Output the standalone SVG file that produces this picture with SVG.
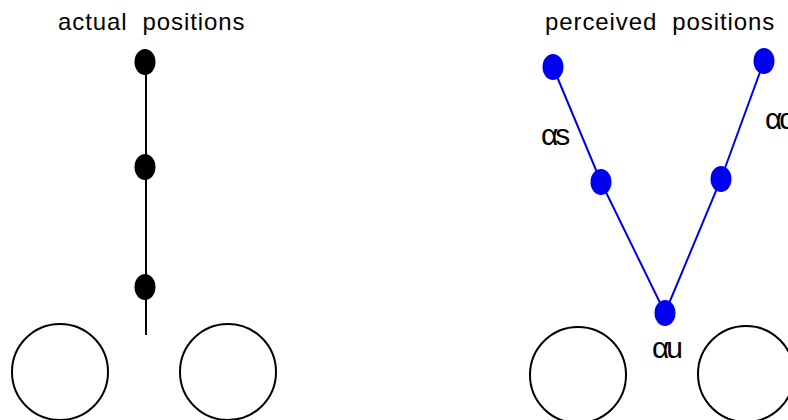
<svg xmlns="http://www.w3.org/2000/svg" width="788" height="420" viewBox="0 0 788 420">
<style>
.title{font-family:"Liberation Sans",Arial,sans-serif;font-size:24px;fill:#000;letter-spacing:0.9px;white-space:pre}
.lbl{font-family:"Liberation Sans",Arial,sans-serif;font-size:30px;fill:#000;letter-spacing:-3px}
.eye{fill:#fff;stroke:#000;stroke-width:2}
.bd{fill:#000}
.blu{fill:#0000ee}
</style>
<rect width="788" height="420" fill="#fff"/>
<text class="title" x="58" y="30" xml:space="preserve">actual  positions</text>
<text class="title" x="545" y="30" xml:space="preserve">perceived  positions</text>
<g id="connectors">
<line x1="146" y1="62" x2="146" y2="335" stroke="#000" stroke-width="2"/>
<polyline points="553,67 601,182 665,313 721,179 764,61" fill="none" stroke="#0000ee" stroke-width="2"/>
</g>
<g id="eye-left-actual"><circle class="eye" cx="60" cy="372" r="48"/></g>
<g id="eye-right-actual"><circle class="eye" cx="228" cy="372" r="48"/></g>
<g id="eye-left-perceived"><circle class="eye" cx="578" cy="375" r="48"/></g>
<g id="eye-right-perceived"><circle class="eye" cx="746" cy="374" r="48"/></g>
<g id="actual-top"><ellipse class="bd" cx="145" cy="62" rx="10.5" ry="13"/></g>
<g id="actual-mid"><ellipse class="bd" cx="145" cy="167" rx="10.5" ry="13"/></g>
<g id="actual-low"><ellipse class="bd" cx="145" cy="287" rx="10.5" ry="13"/></g>
<g id="perc-s-far"><ellipse class="blu" cx="553" cy="67" rx="10.5" ry="13"/></g>
<g id="perc-s-near"><ellipse class="blu" cx="601" cy="182" rx="10.5" ry="13"/></g>
<g id="perc-u"><ellipse class="blu" cx="665" cy="313" rx="10.5" ry="13"/></g>
<g id="perc-d-near"><ellipse class="blu" cx="721" cy="179" rx="10.5" ry="13"/></g>
<g id="perc-d-far"><ellipse class="blu" cx="764" cy="61" rx="10.5" ry="13"/></g>
<text class="lbl" x="541" y="145">αs</text>
<text class="lbl" x="765" y="129">αd</text>
<text class="lbl" x="652" y="358">αu</text>
</svg>
